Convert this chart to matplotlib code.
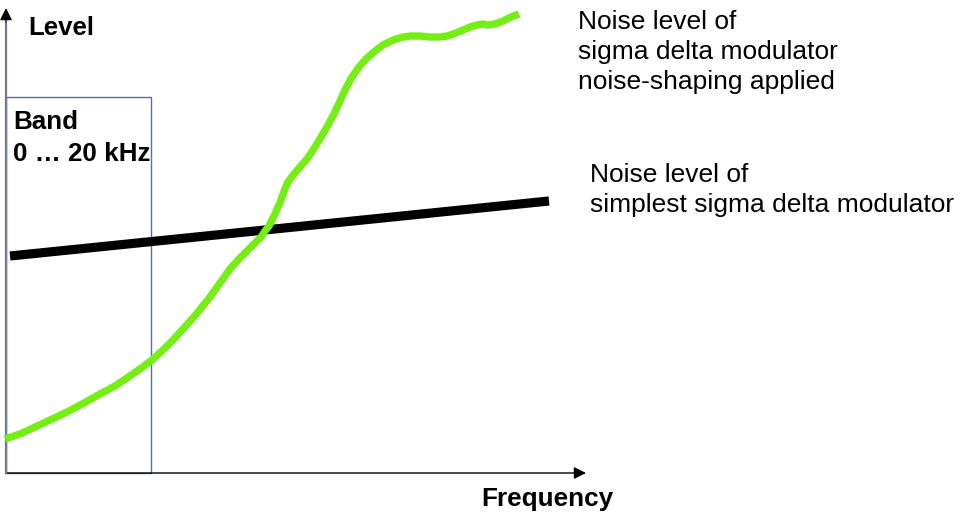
import matplotlib
matplotlib.use("Agg")
import matplotlib.pyplot as plt
from matplotlib.patches import Rectangle

plt.rcParams['font.family'] = ['Liberation Sans', 'DejaVu Sans']

# Data (pixel-like coordinates, y downwards)
shaped_x = [5, 20, 33, 50, 67, 84, 100, 115, 127, 140, 152, 163, 173, 183, 193, 202, 210, 220,
            230, 239, 247, 253, 258, 262, 265, 269, 272, 275, 277, 280, 282, 285, 288, 294, 300,
            307, 313, 320, 327, 334, 340, 346, 352, 359, 367, 375, 383, 393, 403, 411, 420, 430,
            440, 447, 453, 461, 470, 477, 483, 488, 495, 503, 511, 519]
shaped_y = [439, 434, 428, 420, 412, 403, 394, 386, 378, 369, 360, 350, 340, 329, 318, 307, 297, 283,
            269, 259, 251, 245, 240, 236, 231, 226, 220, 214, 209, 203, 197, 189, 182, 174, 167,
            159, 150, 139, 127, 114, 101, 88, 77, 67, 58, 51, 45, 40, 37, 36, 36, 37,
            37, 36, 34, 31, 27, 25, 24, 25, 24, 21, 17, 14]
simple_x = [10, 549]
simple_y = [256, 201]
band_x = [6, 151]
band_y = [97, 473]

fig = plt.figure(figsize=(9.68, 5.17), dpi=100)
ax = fig.add_axes([0, 0, 1, 1])
ax.set_xlim(0, 968)
ax.set_ylim(517, 0)
ax.axis('off')

# band box
ax.add_patch(Rectangle((band_x[0], band_y[0]), band_x[1] - band_x[0], band_y[1] - band_y[0],
                       fill=False, edgecolor='#5b7090', linewidth=1.0, zorder=2))

# axes arrows
ax.annotate('', xy=(586, 473), xytext=(6, 473),
            arrowprops=dict(arrowstyle='-|>', color='black', lw=1.0, mutation_scale=18,
                            shrinkA=0, shrinkB=0), zorder=3)
ax.annotate('', xy=(6, 8), xytext=(6, 60),
            arrowprops=dict(arrowstyle='-|>', color='black', lw=1.0, mutation_scale=18,
                            shrinkA=0, shrinkB=0), zorder=3)
ax.plot([6, 6], [473, 24], color='#6f7a8a', lw=1.6, zorder=4)

# curves
ax.plot(simple_x, simple_y, color='black', lw=6.6, solid_capstyle='butt', zorder=4)
ax.plot(shaped_x, shaped_y, color='#74ee15', lw=5.3, solid_capstyle='butt',
        solid_joinstyle='round', zorder=5)

# texts
ax.text(28, 35, 'Level', fontsize=18.5, fontweight='bold', va='baseline', ha='left')
ax.text(481, 506, 'Frequency', fontsize=18.8, fontweight='bold', va='baseline', ha='left')
ax.text(13, 129, 'Band', fontsize=18.7, fontweight='bold', va='baseline', ha='left')
ax.text(13, 161, '0 … 20 kHz', fontsize=18.7, fontweight='bold', va='baseline', ha='left')
for yb, s in zip([29, 59, 89], ['Noise level of', 'sigma delta modulator', 'noise-shaping applied']):
    ax.text(578, yb, s, fontsize=19, va='baseline', ha='left')
for yb, s in zip([182, 212], ['Noise level of', 'simplest sigma delta modulator']):
    ax.text(590, yb, s, fontsize=19, va='baseline', ha='left')

fig.savefig('out.png', dpi=100)
